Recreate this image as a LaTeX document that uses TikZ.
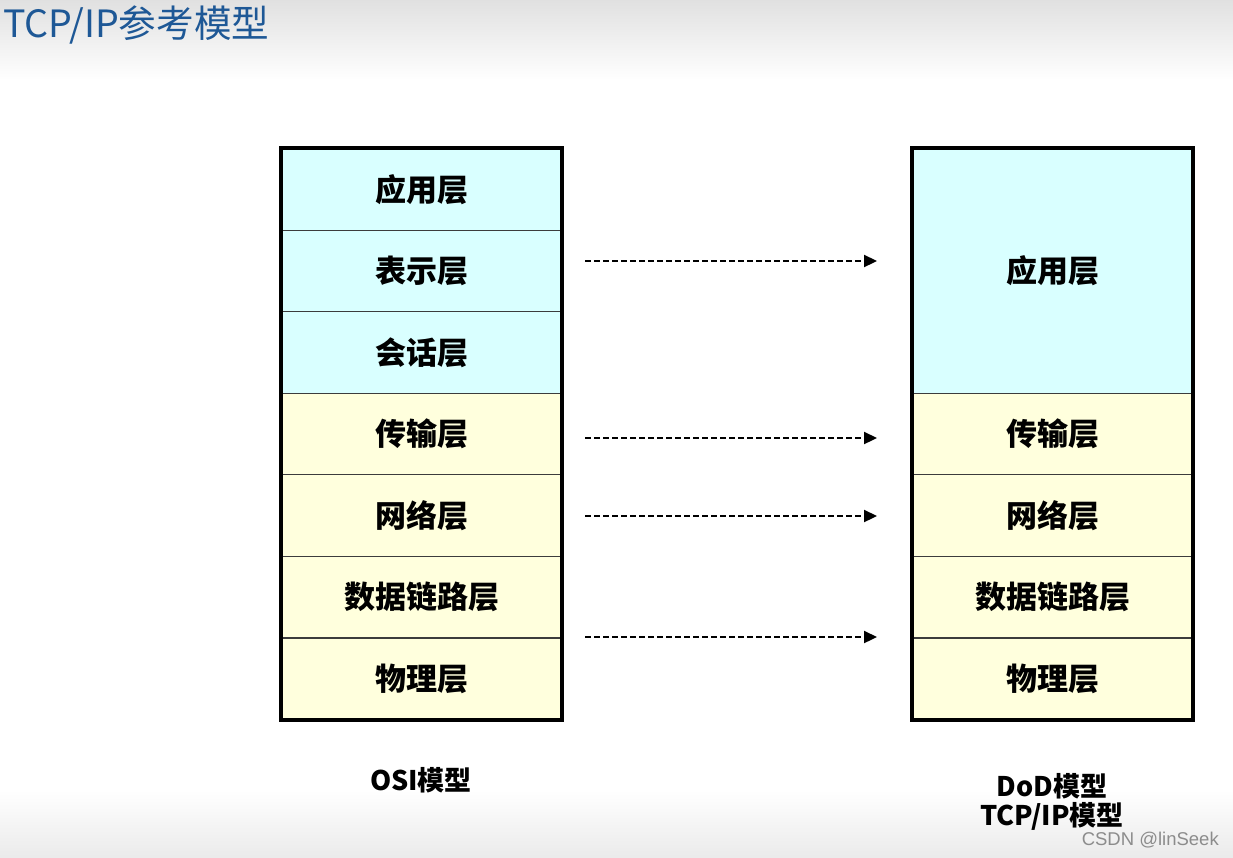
\documentclass[tikz,border=0pt]{standalone}
\usepackage{fontspec}
\newfontfamily\cjk{Noto Sans CJK SC}
\setsansfont{Liberation Sans}
\usetikzlibrary{arrows.meta,calc}
\definecolor{upcyan}{RGB}{217,255,255}
\definecolor{lowyel}{RGB}{255,255,221}
\definecolor{titleblue}{RGB}{30,88,150}
\definecolor{rowline}{RGB}{60,60,60}
\tikzset{
  layer/.style={draw=rowline, line width=1.2pt, minimum width=280pt, minimum height=81.57pt,
    inner sep=0pt, anchor=north west, font=\cjk\bfseries\fontsize{31}{34}\selectfont, text=black},
  up/.style={layer, fill=upcyan},
  low/.style={layer, fill=lowyel},
  frame/.style={draw=black, line width=3.6pt},
  maparrow/.style={dashed, dash pattern=on 6pt off 3pt, line width=2.2pt, -{Triangle[length=13pt,width=12pt]}},
  caption/.style={font=\cjk\bfseries\fontsize{27}{32}\selectfont, text=black, align=center}
}
\begin{document}
\begin{tikzpicture}[x=1pt,y=-1pt]
\useasboundingbox (0,0) rectangle (1233,857);
\shade[top color=black!12, bottom color=white] (0,0) rectangle (1233,80);
\shade[top color=white, bottom color=black!8] (0,790) rectangle (1233,857);
\node[anchor=west, text=titleblue, font=\cjk\fontsize{37.6}{40}\selectfont, inner sep=0pt] (title) at (3,25) {TCP/IP参考模型};
% OSI stack
\node[up]  (o1) at (281,148.0) {应用层};
\node[up]  (o2) at (281,229.57) {表示层};
\node[up]  (o3) at (281,311.14) {会话层};
\node[low] (o4) at (281,392.71) {传输层};
\node[low] (o5) at (281,474.29) {网络层};
\node[low] (o6) at (281,555.86) {数据链路层};
\node[low] (o7) at (281,637.43) {物理层};
\draw[frame] (o1.north west) rectangle (o7.south east);
% DoD stack
\node[up, minimum height=244.71pt] (d1) at (912,148.0) {应用层};
\node[low] (d4) at (912,392.71) {传输层};
\node[low] (d5) at (912,474.29) {网络层};
\node[low] (d6) at (912,555.86) {数据链路层};
\node[low] (d7) at (912,637.43) {物理层};
\draw[frame] (d1.north west) rectangle (d7.south east);
% arrows
\coordinate (a1s) at (585,261); \coordinate (a1e) at (877,261);
\coordinate (a2s) at (585,438); \coordinate (a2e) at (877,438);
\coordinate (a3s) at (585,516); \coordinate (a3e) at (877,516);
\coordinate (a4s) at (585,637); \coordinate (a4e) at (877,637);
\draw[maparrow] (a1s) -- (a1e);
\draw[maparrow] (a2s) -- (a2e);
\draw[maparrow] (a3s) -- (a3e);
\draw[maparrow] (a4s) -- (a4e);
% captions
\node[caption] (osi) at (421,780) {OSI模型};
\node[caption, inner sep=0pt] (dod) at (1052,802) {DoD模型\\[-3pt]TCP/IP模型};
\node[anchor=east, text=black!45, font=\sffamily\fontsize{18.5}{20}\selectfont, inner sep=0pt] (wm) at (1219,840) {CSDN @linSeek};
\end{tikzpicture}
\end{document}
